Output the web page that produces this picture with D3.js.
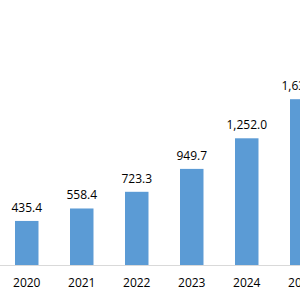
<!DOCTYPE html>
<html>
<head>
<meta charset="utf-8">
<script src="https://cdn.jsdelivr.net/npm/d3@7"></script>
<style>
  body { margin: 0; background: #fff; }
  text { font-family: "Open Sans", "Liberation Sans", sans-serif; fill: #000; }
</style>
</head>
<body>
<div id="vis-container"></div>
<script>
// values (last bar is cut off at the right edge)
const years = ["2020", "2021", "2022", "2023", "2024", "2025"];
const values = [435.4, 558.4, 723.3, 949.7, 1252.0, 1638.4];

let width = 300, height = 300;
let baseY = 265;

let svg = d3.select("#vis-container").append("svg")
    .attr("width", width)
    .attr("height", height);

// one step is 55px, first bar centred at ~26.75
let x = d3.scaleBand()
    .domain(years)
    .range([-0.75, -0.75 + 55 * years.length])
    .paddingInner(0.573)
    .paddingOuter(0.573 / 2);

let y = d3.scaleLinear()
    .domain([0, 2000])
    .range([baseY, baseY - 202.4]);

let fmt = d3.format(",.1f");

// bars
svg.append("g").selectAll("rect")
    .data(values)
    .join("rect")
    .attr("x", (d, i) => x(years[i]))
    .attr("y", d => y(d))
    .attr("width", x.bandwidth())
    .attr("height", d => y(0) - y(d))
    .attr("fill", "#5b9bd5");

// baseline
svg.append("line")
    .attr("x1", 0).attr("x2", width)
    .attr("y1", baseY + 0.5).attr("y2", baseY + 0.5)
    .attr("stroke", "#d9d9d9")
    .attr("stroke-width", 1);

// value labels
svg.append("g").selectAll("text")
    .data(values)
    .join("text")
    .attr("x", (d, i) => x(years[i]) + x.bandwidth() / 2)
    .attr("y", d => y(d) - 9)
    .attr("text-anchor", "middle")
    .attr("font-size", "12px")
    .text(d => fmt(d));

// year labels
svg.append("g").selectAll("text")
    .data(years)
    .join("text")
    .attr("x", d => x(d) + x.bandwidth() / 2)
    .attr("y", 286.5)
    .attr("text-anchor", "middle")
    .attr("font-size", "12px")
    .text(d => d);
</script>
</body>
</html>
